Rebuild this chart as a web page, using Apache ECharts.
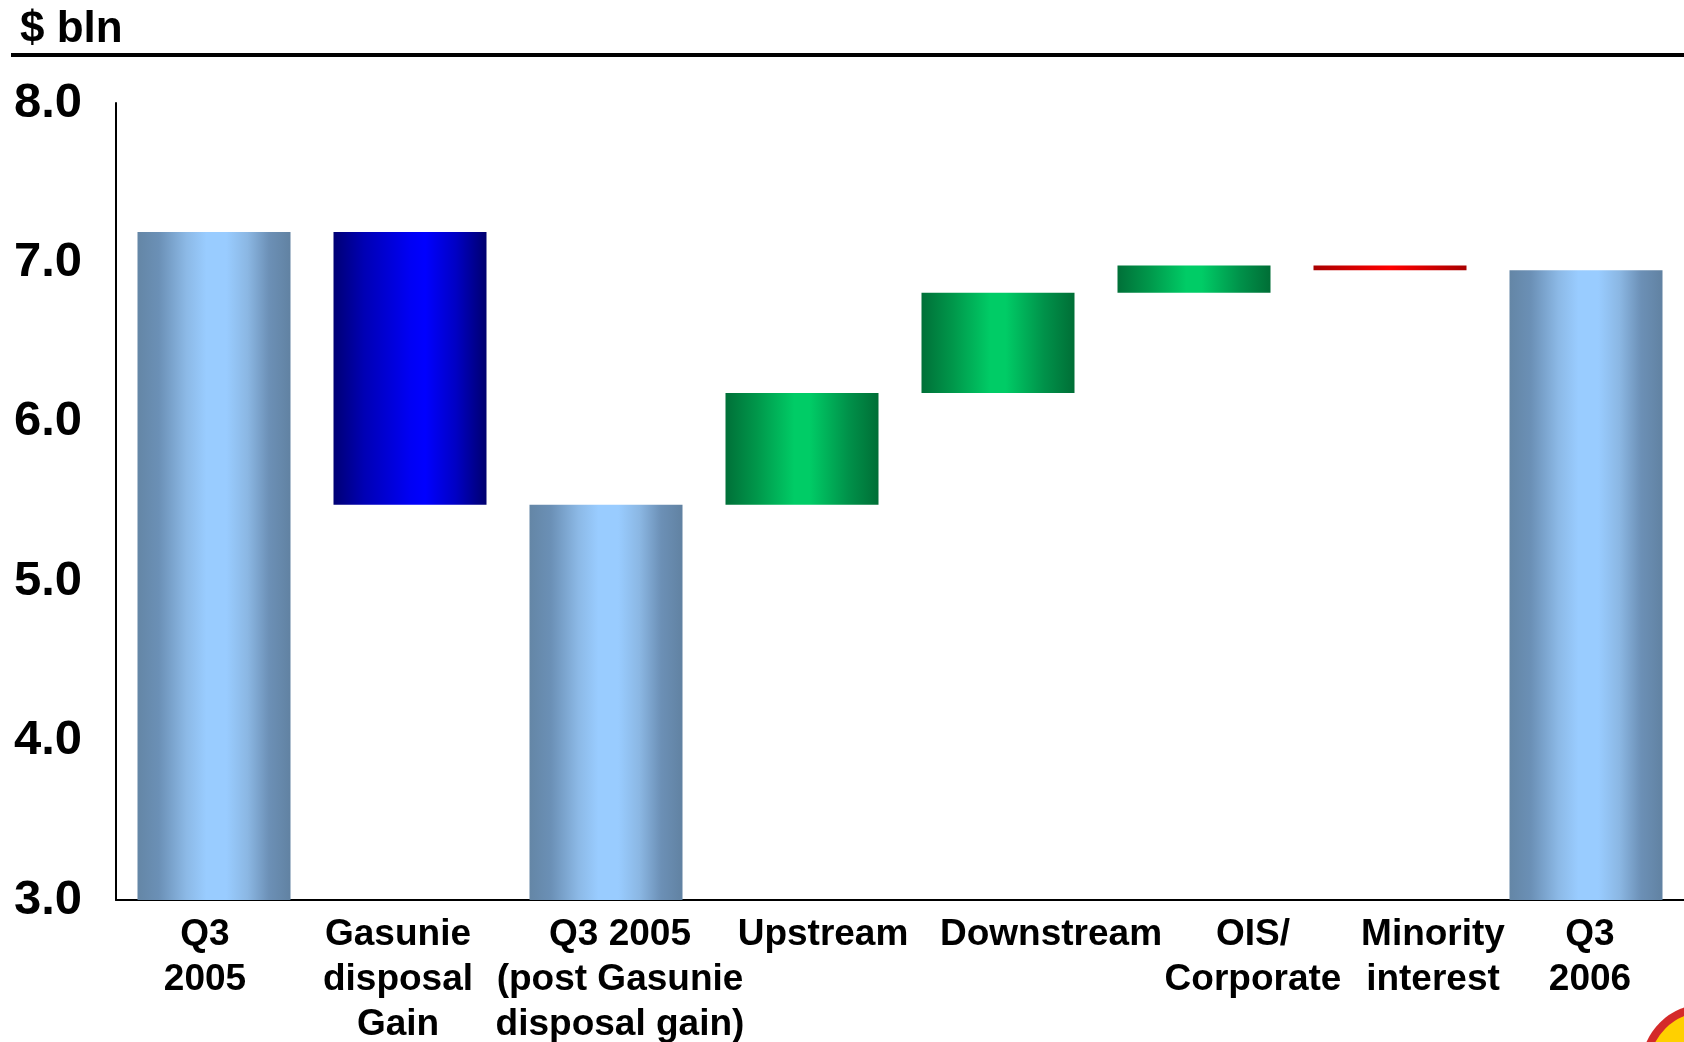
<!DOCTYPE html>
<html>
<head>
<meta charset="utf-8">
<title>Earnings bridge Q3 2005 - Q3 2006</title>
<script src="https://cdn.jsdelivr.net/npm/echarts@6/dist/echarts.min.js"></script>
<style>
	html, body { margin: 0; padding: 0; background: #fff; }
	#chart { width: 1684px; height: 1042px; }
</style>
</head>
<body>
<div id="chart"></div>
<script type="text/javascript">
	// data ($ bln)
	var categories = ['Q3\n2005', 'Gasunie\ndisposal\nGain', 'Q3 2005\n(post Gasunie\ndisposal gain)',
		'Upstream', 'Downstream', 'OIS/\nCorporate', 'Minority\ninterest', 'Q3\n2006'];
	var totals = [7.19, null, 5.48, null, null, null, null, 6.95];
	var changes = [null, -1.71, null, 0.70, 0.63, 0.17, -0.03, null];
	var yTicks = [3, 4, 5, 6, 7, 8];

	// the slide's labels sit a bit off their bars, nudge them the same way
	var labelNudge = [-9, -12, 14, 21, 53, 59, 43, 4];
	var font = 'Liberation Sans, Arial, sans-serif';

	function hGrad(stops) {
		return {
			type: 'linear', x: 0, y: 0, x2: 1, y2: 0,
			colorStops: stops.map(function(s) { return {offset: s[0], color: s[1]}; })
		};
	}
	var steel = hGrad([[0, '#6486a6'], [0.14, '#6b90b6'], [0.32, '#8cb9e6'], [0.45, '#99ccff'],
		[0.58, '#99ccff'], [0.72, '#8bb7e3'], [0.86, '#6c90b6'], [1, '#6182a2']]);
	var blue = hGrad([[0, '#000074'], [0.2, '#0000b4'], [0.5, '#0000f4'], [0.6, '#0000ff'],
		[0.8, '#0000c4'], [1, '#00006e']]);
	var green = hGrad([[0, '#007038'], [0.2, '#00964a'], [0.45, '#00cc66'], [0.55, '#00cc66'],
		[0.8, '#00924a'], [1, '#006e36']]);
	var red = hGrad([[0, '#a80000'], [0.5, '#ff0000'], [1, '#a80000']]);

	// build the waterfall: invisible base + visible piece
	var baseData = [], totalData = [], changeData = [];
	var level = 0;
	for (var i = 0; i < categories.length; i++) {
		if (totals[i] != null) {
			level = totals[i];
			baseData.push(0);
			totalData.push(totals[i]);
			changeData.push('-');
		} else {
			var d = changes[i];
			var c = i == 1 ? blue : (d < 0 ? red : green);
			baseData.push(+Math.min(level, level + d).toFixed(2));
			totalData.push('-');
			changeData.push({value: Math.abs(d), itemStyle: {color: c}});
			level = +(level + d).toFixed(2);
		}
	}

	var xData = categories.map(function(name, i) {
		var n = labelNudge[i];
		return {
			value: name,
			textStyle: {padding: n > 0 ? [0, 0, 0, 2 * n] : [0, -2 * n, 0, 0]}
		};
	});

	var myChart = echarts.init(document.getElementById('chart'));
	var option = {
		backgroundColor: '#fff',
		animation: false,
		title: {
			text: '$ bln',
			left: 20,
			top: 8,
			padding: 0,
			textStyle: {fontFamily: font, fontSize: 44, fontWeight: 'bold', color: '#000'}
		},
		graphic: [
			{type: 'line', shape: {x1: 11, y1: 55, x2: 1684, y2: 55}, style: {stroke: '#000', lineWidth: 4}},
			{type: 'circle', shape: {cx: 1705, cy: 1068, r: 64}, style: {fill: '#d42a2a'}},
			{type: 'circle', shape: {cx: 1705, cy: 1068, r: 56}, style: {fill: '#ffd000'}}
		],
		grid: {left: 116, right: 0, top: 103, bottom: 142, containLabel: false, outerBoundsMode: 'none'},
		xAxis: {
			type: 'category',
			data: xData,
			axisLine: {lineStyle: {color: '#000', width: 2}},
			axisTick: {show: false},
			axisLabel: {
				interval: 0,
				margin: 12,
				color: '#000',
				fontFamily: font,
				fontSize: 37,
				fontWeight: 'bold',
				lineHeight: 45
			}
		},
		yAxis: {
			type: 'value',
			min: yTicks[0],
			max: yTicks[yTicks.length - 1],
			interval: 1,
			axisLine: {show: true, lineStyle: {color: '#000', width: 2}},
			axisTick: {show: false},
			splitLine: {show: false},
			axisLabel: {
				margin: 34,
				color: '#000',
				fontFamily: font,
				fontSize: 49,
				fontWeight: 'bold',
				formatter: function(v) { return v.toFixed(1); }
			}
		},
		series: [{
			name: 'base',
			type: 'bar',
			stack: 'w',
			barWidth: 153,
			silent: true,
			itemStyle: {color: 'rgba(0,0,0,0)'},
			data: baseData
		}, {
			name: 'total',
			type: 'bar',
			stack: 'w',
			barWidth: 153,
			itemStyle: {color: steel},
			data: totalData
		}, {
			name: 'change',
			type: 'bar',
			stack: 'w',
			barWidth: 153,
			data: changeData
		}]
	};
	myChart.setOption(option);
</script>
</body>
</html>
